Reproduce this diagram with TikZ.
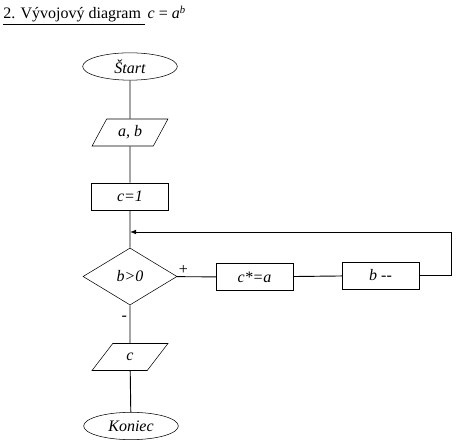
\documentclass[tikz,border=0pt]{standalone}
\usepackage{fontspec}
\setmainfont{Liberation Serif}
\usetikzlibrary{arrows.meta,shapes.geometric}

\begin{document}
\begin{tikzpicture}[
  x=0.75pt, y=-0.75pt,
  every node/.style={font=\fontsize{12}{14}\selectfont\itshape},
  terminal/.style={draw,ellipse,minimum width=71pt,minimum height=20.5pt,inner sep=0pt},
  iobox/.style={draw,trapezium,trapezium left angle=61,trapezium right angle=119,
                trapezium stretches=true,minimum width=57pt,minimum height=20.25pt,inner sep=0pt},
  procbox/.style={draw,rectangle,minimum width=57.5pt,minimum height=20.5pt,inner sep=0pt},
  decision/.style={draw,diamond,minimum width=70.5pt,minimum height=42.75pt,inner sep=0pt},
  line/.style={line width=0.7pt},
  arr/.style={line,-{Latex[length=4.5pt,width=3.5pt]}},
]
  \useasboundingbox (0,0) rectangle (461,448);

  % Title
  \node[anchor=base west,font=\fontsize{12}{14}\selectfont,inner sep=0pt] (title) at (3,19)
    {\underline{2. Vývojový diagram\ }\,\textit{c} = \textit{a}\textsuperscript{\textit{b}}};

  % Flowchart
  \node[terminal] (start) at (130,66.5) {Štart};
  \node[iobox]    (read)  at (130,132.5) {a, b};
  \node[procbox]  (init)  at (130,196.5) {c=1};
  \node[decision] (cond)  at (130,276.5) {b>0};
  \node[procbox]  (mult)  at (254.5,277) {c*=a};
  \node[procbox]  (dec)   at (380.5,275.5) {b -{}-};
  \node[iobox]    (write) at (130,357) {c};
  \node[terminal] (stop)  at (131,426) {Koniec};
  \coordinate (loop) at (130,232);

  % Branch labels
  \node[font=\fontsize{12}{14}\selectfont,anchor=south west,inner sep=1pt] (plus) at (cond.east) {+};
  \node[font=\fontsize{12}{14}\selectfont,anchor=north east,inner sep=2pt,yshift=-6pt] (minus) at (cond.south) {-};

  % Connectors
  \draw[line] (start) -- (read) -- (init) -- (cond);
  \draw[line] (cond) -- (mult) -- (dec);
  \draw[arr] (dec.east) -- ++(32,0) |- (loop);
  \draw[line] (cond) -- (write) -- (stop);
\end{tikzpicture}
\end{document}
